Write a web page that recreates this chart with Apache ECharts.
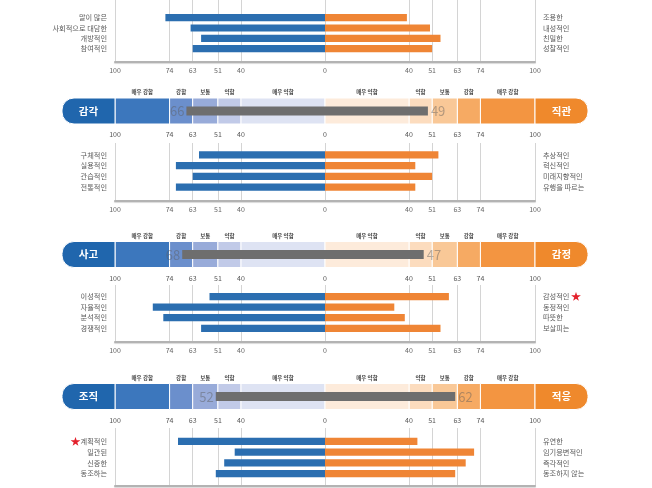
<!DOCTYPE html>
<html><head><meta charset="utf-8">
<script src="https://cdn.jsdelivr.net/npm/echarts@6/dist/echarts.min.js"></script>
<style>html,body{margin:0;padding:0;background:#fff}#c{width:652px;height:488px}</style>
</head><body><div id="c"></div>
<script>
// ---------- data ----------
const tickValues = [100, 74, 63, 51, 40, 0];
const levelNames = ['매우 강함', '강함', '보통', '약함', '매우 약함'];

const leftLabels1 = ['말이 많은', '사회적으로 대담한', '개방적인', '참여적인'];
const leftValues1 = [76, 64, 59, 63];
const rightLabels1 = ['조용한', '내성적인', '친밀한', '성찰적인'];
const rightValues1 = [39, 50, 55, 51];

const leftLabels2 = ['구체적인', '실용적인', '관습적인', '전통적인'];
const leftValues2 = [60, 71, 63, 71];
const rightLabels2 = ['추상적인', '혁신적인', '미래지향적인', '유행을 따르는'];
const rightValues2 = [54, 43, 51, 43];

const leftLabels3 = ['이성적인', '자율적인', '분석적인', '경쟁적인'];
const leftValues3 = [55, 82, 77, 59];
const rightLabels3 = ['감성적인', '동정적인', '따뜻한', '보살피는'];
const rightValues3 = [59, 33, 38, 55];

const leftLabels4 = ['계획적인', '일관된', '신중한', '동조하는'];
const leftValues4 = [70, 43, 48, 52];
const rightLabels4 = ['유연한', '임기응변적인', '즉각적인', '동조하지 않는'];
const rightValues4 = [44, 71, 67, 62];

const bandLeftNames = ['감각', '사고', '조직'];
const bandRightNames = ['직관', '감정', '적응'];
const bandLeftValues = [66, 68, 52];
const bandRightValues = [49, 47, 62];

const starred = ['감성적인', '계획적인'];

// ---------- layout / style ----------
const FONT = 'Noto Sans CJK KR';
const BLUE = '#2b6eb0', ORANGE = '#ef8535';
const leftBandColors = ['#3c77bd', '#6b8fcc', '#98abd9', '#c1cae8', '#dee3f3'];
const rightBandColors = ['#f39541', '#f6aa63', '#f9c897', '#fcdcbe', '#fdebdb'];
const leftCap = '#2066ad', rightCap = '#ef892c';

const sections = [
  {ll: leftLabels1, lv: leftValues1, rl: rightLabels1, rv: rightValues1},
  {ll: leftLabels2, lv: leftValues2, rl: rightLabels2, rv: rightValues2},
  {ll: leftLabels3, lv: leftValues3, rl: rightLabels3, rv: rightValues3},
  {ll: leftLabels4, lv: leftValues4, rl: rightLabels4, rv: rightValues4}
];
const barLayout = [
  {top: 0, h: 61.7, min: -1.71, max: 4.26},
  {top: 143, h: 58, min: -1.1, max: 4.3},
  {top: 285, h: 57, min: -1.1, max: 4.3},
  {top: 428, h: 58, min: -1.25, max: 4.15}
];
const bandLayout = [{top: 98, h: 26}, {top: 241.5, h: 26}, {top: 383.5, h: 26}];

const axisVals = tickValues.map(v => v === 0 ? 0 : -v).concat(tickValues.slice(0, 5).reverse());
const absFmt = v => String(Math.abs(Math.round(v)));

const grids = [], xAxes = [], yAxes = [], series = [];

sections.forEach((s, i) => {
  const L = barLayout[i];
  grids.push({left: 115, width: 420, top: L.top, height: L.h, outerBoundsMode: 'none', containLabel: false});
  xAxes.push({
    type: 'value', gridIndex: i, min: -100, max: 100,
    axisLine: {show: true, onZero: false, lineStyle: {color: '#b3b3b3', width: 2, shadowColor: 'rgba(0,0,0,0.15)', shadowOffsetY: 1, shadowBlur: 1}},
    axisTick: {show: false, customValues: axisVals},
    axisLabel: {customValues: axisVals, formatter: absFmt, fontSize: 7, color: '#666', margin: 5, fontFamily: FONT},
    splitLine: {show: true, lineStyle: {color: '#d4d4d4', width: 1}}
  });
  const mk = (labels, pos, isLeft) => ({
    type: 'value', gridIndex: i, position: pos, inverse: true, min: L.min, max: L.max,
    axisLine: {show: false}, axisTick: {show: false}, splitLine: {show: false},
    axisLabel: {
      customValues: [0, 1, 2, 3], margin: 8, fontSize: 7.2, color: '#5a5a5a', fontFamily: FONT,
      formatter: v => {
        const n = labels[Math.round(v)];
        if (!starred.includes(n)) return n;
        return isLeft ? '{s|★}' + n : n + ' {s|★}';
      },
      rich: {s: {color: '#e3202b', fontSize: 10, fontFamily: FONT}}
    }
  });
  yAxes.push(mk(s.ll, 'left', true));
  yAxes.push(mk(s.rl, 'right', false));
  const barItem = (params, api) => {
    const p0 = api.coord([0, api.value(1)]);
    const p1 = api.coord([api.value(0), api.value(1)]);
    const x = Math.min(p0[0], p1[0]);
    return {type: 'rect', shape: {x: x, y: p0[1] - 3.6, width: Math.abs(p1[0] - p0[0]), height: 7.2},
      style: {fill: api.value(0) < 0 ? BLUE : ORANGE}};
  };
  series.push({type: 'custom', xAxisIndex: i, yAxisIndex: 2 * i, renderItem: barItem, z: 3,
    data: s.lv.map((v, k) => [-v, k])});
  series.push({type: 'custom', xAxisIndex: i, yAxisIndex: 2 * i, renderItem: barItem, z: 3,
    data: s.rv.map((v, k) => [v, k])});
});

// band segments derived from tick values
const segments = [];
for (let k = 0; k < 5; k++) {
  segments.push([-tickValues[k], -tickValues[k + 1], 0, k]);
  segments.push([tickValues[k + 1], tickValues[k], 1, k]);
}

bandLayout.forEach((B, j) => {
  const gi = 4 + j;
  grids.push({left: 115, width: 420, top: B.top, height: B.h, outerBoundsMode: 'none', containLabel: false});
  xAxes.push({
    type: 'value', gridIndex: gi, min: -100, max: 100,
    axisLine: {show: false}, axisTick: {show: false, customValues: axisVals}, splitLine: {show: false},
    axisLabel: {customValues: axisVals, formatter: absFmt, fontSize: 7, color: '#555', margin: 7, fontFamily: FONT}
  });
  yAxes.push({type: 'value', gridIndex: gi, min: 0, max: 1, show: false});
  const yi = yAxes.length - 1;
  // segments
  series.push({
    type: 'custom', xAxisIndex: gi, yAxisIndex: yi, z: 1, clip: false,
    data: segments,
    renderItem: (params, api) => {
      const a = api.coord([api.value(0), 1]);
      const b = api.coord([api.value(1), 0]);
      const side = api.value(2), lv = api.value(3);
      const fill = side === 0 ? leftBandColors[lv] : rightBandColors[lv];
      return {type: 'group', children: [
        {type: 'rect', shape: {x: a[0], y: a[1], width: b[0] - a[0], height: b[1] - a[1]},
          style: {fill: fill, stroke: '#fff', lineWidth: 1}},
        {type: 'text', x: (a[0] + b[0]) / 2, y: a[1] - 6,
          style: {text: levelNames[lv], fontSize: 5.5, fill: '#444', align: 'center', verticalAlign: 'middle', fontFamily: FONT, fontWeight: 'bold'}}
      ]};
    }
  });
  // caps
  series.push({
    type: 'custom', xAxisIndex: gi, yAxisIndex: yi, z: 1, clip: false,
    data: [[-100, 0], [100, 1]],
    renderItem: (params, api) => {
      const a = api.coord([api.value(0), 1]);
      const b = api.coord([api.value(0), 0]);
      const isLeft = api.value(1) === 0;
      const w = 53;
      const x = isLeft ? a[0] - w : a[0];
      return {type: 'group', children: [
        {type: 'rect', shape: {x: x, y: a[1], width: w, height: b[1] - a[1], r: isLeft ? [12, 0, 0, 12] : [0, 12, 12, 0]},
          style: {fill: isLeft ? leftCap : rightCap, stroke: '#fff', lineWidth: 1}},
        {type: 'text', x: x + w / 2, y: (a[1] + b[1]) / 2,
          style: {text: isLeft ? bandLeftNames[j] : bandRightNames[j], fontSize: 10.5, fontWeight: 'bold', fill: '#fff', align: 'center', verticalAlign: 'middle', fontFamily: FONT}}
      ]};
    }
  });
  // gray score bar
  series.push({
    type: 'custom', xAxisIndex: gi, yAxisIndex: yi, z: 4, clip: false,
    data: [[-bandLeftValues[j], bandRightValues[j]]],
    renderItem: (params, api) => {
      const a = api.coord([api.value(0), 0.5]);
      const b = api.coord([api.value(1), 0.5]);
      return {type: 'group', children: [
        {type: 'rect', shape: {x: a[0], y: a[1] - 4.5, width: b[0] - a[0], height: 9}, style: {fill: '#6e6e6e'}},
        {type: 'text', x: a[0] - 2, y: a[1] + 0.5,
          style: {text: String(Math.abs(api.value(0))), fontSize: 13, fill: 'rgba(90,90,90,0.45)', align: 'right', verticalAlign: 'middle', fontFamily: FONT}},
        {type: 'text', x: b[0] + 3, y: a[1] + 0.5,
          style: {text: String(api.value(1)), fontSize: 13, fill: 'rgba(90,90,90,0.45)', align: 'left', verticalAlign: 'middle', fontFamily: FONT}}
      ]};
    }
  });
});

const chart = echarts.init(document.getElementById('c'));
chart.setOption({
  animation: false,
  backgroundColor: '#fff',
  textStyle: {fontFamily: FONT},
  grid: grids, xAxis: xAxes, yAxis: yAxes, series: series
});
</script>
</body></html>
